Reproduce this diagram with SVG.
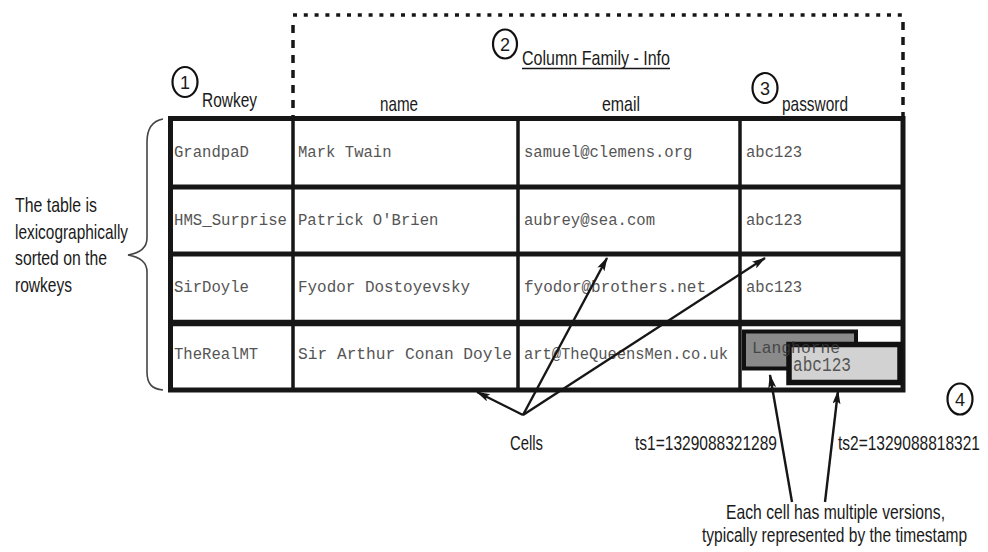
<svg xmlns="http://www.w3.org/2000/svg" width="988" height="552" viewBox="0 0 988 552">
  <style>
    .lbl { font-family: "Liberation Sans", Arial, sans-serif; font-size: 21px; fill: #1a1a1a; }
    .num { font-family: "Liberation Sans", Arial, sans-serif; font-size: 18px; fill: #1a1a1a; text-anchor: middle; }
    .cell { font-family: "Liberation Mono", "Courier New", monospace; font-size: 15.6px; fill: #555; }
    .grid { stroke: #161616; fill: none; }
    .badge { fill: none; stroke: #111; stroke-width: 2.2; }
    .arrow { stroke: #161616; stroke-width: 2.4; fill: none; marker-end: url(#ah); }
    .frame { stroke: #161616; stroke-width: 3.5; fill: none; }
  </style>
  <defs>
    <marker id="ah" viewBox="0 0 14 8" refX="13" refY="4" markerWidth="14" markerHeight="8" markerUnits="userSpaceOnUse" orient="auto">
      <path d="M0,0 L14,4 L0,8 L3,4 z" fill="#161616"/>
    </marker>
  </defs>
  <rect width="988" height="552" fill="#fff"/>

  <!-- column family frame -->
  <g id="column-family">
    <path class="frame" d="M293,15 H903" stroke-dasharray="4 6.8"/>
    <path class="frame" d="M293,25 V118" stroke-dasharray="8 7"/>
    <path class="frame" d="M903,22 V118" stroke-dasharray="8 7"/>
    <ellipse class="badge" cx="505" cy="44" rx="12" ry="14.5"/>
    <text class="num" x="505" y="51">2</text>
    <text class="lbl" x="522" y="65" textLength="148" lengthAdjust="spacingAndGlyphs">Column Family - Info</text>
    <line x1="522" y1="68.5" x2="670" y2="68.5" stroke="#161616" stroke-width="1.6"/>
  </g>

  <!-- column headers -->
  <g id="header-rowkey">
    <ellipse class="badge" cx="185" cy="82" rx="12.5" ry="15"/>
    <text class="num" x="185" y="89">1</text>
    <text class="lbl" x="202" y="107" textLength="55" lengthAdjust="spacingAndGlyphs">Rowkey</text>
  </g>
  <g id="header-name">
    <text class="lbl" x="380" y="111" textLength="38" lengthAdjust="spacingAndGlyphs">name</text>
  </g>
  <g id="header-email">
    <text class="lbl" x="602" y="111" textLength="38" lengthAdjust="spacingAndGlyphs">email</text>
  </g>
  <g id="header-password">
    <ellipse class="badge" cx="765" cy="88" rx="12.5" ry="15"/>
    <text class="num" x="765" y="95">3</text>
    <text class="lbl" x="782" y="111" textLength="66" lengthAdjust="spacingAndGlyphs">password</text>
  </g>

  <!-- table grid -->
  <g id="table">
    <rect class="grid" x="170.5" y="118.5" width="732.5" height="271.5" stroke-width="5"/>
    <line class="grid" x1="170" y1="187" x2="903" y2="187" stroke-width="5"/>
    <line class="grid" x1="170" y1="254" x2="903" y2="254" stroke-width="5"/>
    <line class="grid" x1="170" y1="323" x2="903" y2="323" stroke-width="6.5"/>
    <line class="grid" x1="293" y1="118" x2="293" y2="390" stroke-width="3.5"/>
    <line class="grid" x1="518" y1="118" x2="518" y2="390" stroke-width="3.5"/>
    <line class="grid" x1="740" y1="118" x2="740" y2="390" stroke-width="3.5"/>
  </g>

  <!-- rows -->
  <g id="row-grandpad">
    <text class="cell" x="174" y="157">GrandpaD</text>
    <text class="cell" x="298" y="157">Mark Twain</text>
    <text class="cell" x="524" y="157">samuel@clemens.org</text>
    <text class="cell" x="746" y="157">abc123</text>
  </g>
  <g id="row-hms-surprise">
    <text class="cell" x="174" y="225" textLength="113" lengthAdjust="spacingAndGlyphs">HMS_Surprise</text>
    <text class="cell" x="298" y="225">Patrick O'Brien</text>
    <text class="cell" x="524" y="225">aubrey@sea.com</text>
    <text class="cell" x="746" y="225">abc123</text>
  </g>
  <g id="row-sirdoyle">
    <text class="cell" x="174" y="292">SirDoyle</text>
    <text class="cell" x="298" y="292" textLength="172" lengthAdjust="spacingAndGlyphs">Fyodor Dostoyevsky</text>
    <text class="cell" x="524" y="292" textLength="182" lengthAdjust="spacingAndGlyphs">fyodor@brothers.net</text>
    <text class="cell" x="746" y="292">abc123</text>
  </g>
  <g id="row-therealmt">
    <text class="cell" x="174" y="359">TheRealMT</text>
    <text class="cell" x="298" y="359" textLength="214" lengthAdjust="spacingAndGlyphs">Sir Arthur Conan Doyle</text>
    <text class="cell" x="524" y="359" textLength="204" lengthAdjust="spacingAndGlyphs">art@TheQueensMen.co.uk</text>
  </g>

  <!-- versioned password cell -->
  <g id="cell-versions">
    <rect x="744" y="331.5" width="112" height="37" fill="#8a8a8a" stroke="#111" stroke-width="4"/>
    <rect x="789" y="344.5" width="111" height="38" fill="#d2d2d2" stroke="#111" stroke-width="5.5"/>
    <text x="752" y="353" font-family="Liberation Mono, 'Courier New', monospace" font-size="17" fill="#3a3a3a" textLength="88" lengthAdjust="spacingAndGlyphs" opacity="0.85">Langhorne</text>
    <text x="793" y="371" font-family="Liberation Mono, 'Courier New', monospace" font-size="20" fill="#555" textLength="58" lengthAdjust="spacingAndGlyphs">abc123</text>
  </g>

  <!-- sort note with brace -->
  <g id="sort-note">
    <path d="M163,119 C152,121 147,128 147,142 L147,238 C147,248 140,253 128,255 C140,257 147,262 147,272 L147,372 C147,384 152,389 163,390" fill="none" stroke="#444" stroke-width="1.6"/>
    <text class="lbl" x="15" y="212" textLength="82" lengthAdjust="spacingAndGlyphs">The table is</text>
    <text class="lbl" x="15" y="238.5" textLength="113" lengthAdjust="spacingAndGlyphs">lexicographically</text>
    <text class="lbl" x="15" y="265" textLength="92" lengthAdjust="spacingAndGlyphs">sorted on the</text>
    <text class="lbl" x="15" y="292" textLength="57" lengthAdjust="spacingAndGlyphs">rowkeys</text>
  </g>

  <!-- callout labels (condensed horizontally) -->
  <g id="label-cells">
    <text class="lbl" x="510" y="450" textLength="33" lengthAdjust="spacingAndGlyphs">Cells</text>
  </g>
  <g id="label-ts1">
    <text class="lbl" x="635" y="450" textLength="142" lengthAdjust="spacingAndGlyphs">ts1=1329088321289</text>
  </g>
  <g id="label-ts2">
    <text class="lbl" transform="translate(838,450) scale(0.739,1)">ts2=1329088818321</text>
  </g>
  <g id="badge-4">
    <ellipse class="badge" cx="960" cy="399" rx="12.5" ry="15.5"/>
    <text class="num" x="960" y="406">4</text>
  </g>
  <g id="label-versions">
    <text class="lbl" transform="translate(726,519) scale(0.748,1)">Each cell has multiple versions,</text>
    <text class="lbl" transform="translate(702,542) scale(0.74,1)">typically represented by the timestamp</text>
  </g>

  <!-- connectors -->
  <g id="connectors">
    <line class="arrow" x1="523" y1="415" x2="477" y2="392"/>
    <line class="arrow" x1="523" y1="415" x2="607" y2="258"/>
    <line class="arrow" x1="523" y1="415" x2="765" y2="258"/>
    <line class="arrow" x1="792" y1="502" x2="770" y2="375"/>
    <line class="arrow" x1="825" y1="502" x2="838" y2="391"/>
  </g>
</svg>
